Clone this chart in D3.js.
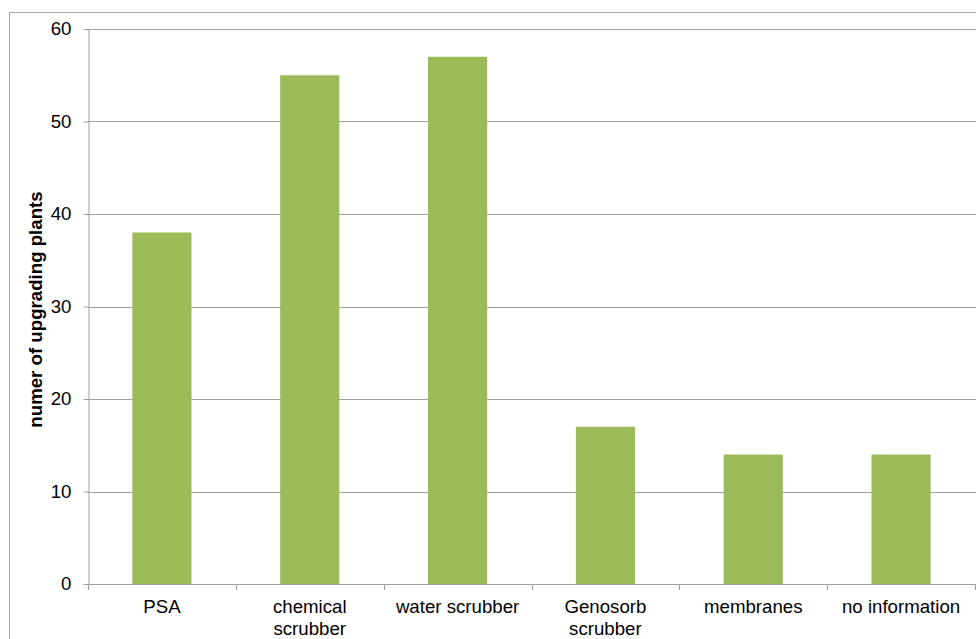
<!DOCTYPE html>
<html>
<head>
<meta charset="utf-8">
<script src="https://cdn.jsdelivr.net/npm/d3@7"></script>
<style>
  html, body { margin: 0; padding: 0; background: #fff; }
  svg { display: block; font-family: "Liberation Sans", Arial, sans-serif; }
</style>
</head>
<body>
<svg id="chart" width="976" height="639"></svg>
<script>
// Upgrading technologies and the number of plants using each
const categories = [["PSA"], ["chemical", "scrubber"], ["water scrubber"], ["Genosorb", "scrubber"], ["membranes"], ["no information"]];
const plantCounts = [38, 55, 57, 17, 14, 14];
const yTicks = [0, 10, 20, 30, 40, 50, 60];
const yTitle = "numer of upgrading plants";

const svg = d3.select("#chart");
const margin = { left: 88, top: 29, right: 1, bottom: 55 };
const W = 976, H = 639;
const FONT = 18.67; // 14pt

// outer chart frame
svg.append("rect")
  .attr("x", 9.5).attr("y", 12.5)
  .attr("width", W + 20).attr("height", H + 20)
  .attr("fill", "none").attr("stroke", "#a6a6a6").attr("stroke-width", 1);

const x = d3.scaleBand()
  .domain(d3.range(categories.length))
  .range([margin.left, W - margin.right])
  .paddingInner(0.6).paddingOuter(0.3);

const xEdges = d3.scaleLinear()
  .domain([0, categories.length])
  .range([margin.left, W - margin.right]);

const y = d3.scaleLinear().domain([0, 60]).range([H - margin.bottom, margin.top]);

// horizontal gridlines
svg.append("g").selectAll("line")
  .data(yTicks.filter(d => d > 0))
  .join("line")
  .attr("x1", margin.left).attr("x2", W)
  .attr("y1", d => Math.round(y(d)) + 0.5).attr("y2", d => Math.round(y(d)) + 0.5)
  .attr("stroke", "#a0a0a0").attr("stroke-width", 1);

// bars
svg.append("g").selectAll("rect")
  .data(plantCounts)
  .join("rect")
  .attr("x", (d, i) => x(i))
  .attr("width", x.bandwidth())
  .attr("y", d => y(d))
  .attr("height", d => y(0) - y(d))
  .attr("fill", "#9bbb59");

// y axis
const yAxis = svg.append("g")
  .attr("transform", `translate(${margin.left + 0.5},0)`)
  .call(d3.axisLeft(y).tickValues(yTicks).tickSize(5).tickPadding(12).tickSizeOuter(0));
yAxis.select(".domain").attr("stroke", "#a0a0a0");
yAxis.selectAll(".tick line").attr("stroke", "#a0a0a0");
yAxis.selectAll(".tick text")
  .attr("font-size", FONT).attr("fill", "#000")
  .attr("font-family", "Liberation Sans, Arial, sans-serif");

// x axis baseline with category boundary ticks
const xg = svg.append("g");
xg.append("line")
  .attr("x1", margin.left).attr("x2", W)
  .attr("y1", Math.round(y(0)) + 0.5).attr("y2", Math.round(y(0)) + 0.5)
  .attr("stroke", "#a0a0a0");
xg.selectAll("line.edge")
  .data(d3.range(categories.length + 1))
  .join("line")
  .attr("class", "edge")
  .attr("x1", d => Math.round(xEdges(d)) + 0.5).attr("x2", d => Math.round(xEdges(d)) + 0.5)
  .attr("y1", y(0)).attr("y2", y(0) + 6)
  .attr("stroke", "#a0a0a0");

// category labels
const labels = xg.selectAll("text.cat")
  .data(categories)
  .join("text")
  .attr("class", "cat")
  .attr("text-anchor", "middle")
  .attr("font-size", FONT)
  .attr("fill", "#000")
  .attr("transform", (d, i) => `translate(${x(i) + x.bandwidth() / 2},${y(0) + 29})`);
labels.selectAll("tspan")
  .data(d => d)
  .join("tspan")
  .attr("x", 0)
  .attr("dy", (d, i) => i === 0 ? 0 : 21.5)
  .text(d => d);

// y axis title
svg.append("text")
  .attr("transform", `translate(42,${(y(0) + y(60)) / 2 + 3}) rotate(-90)`)
  .attr("text-anchor", "middle")
  .attr("font-size", FONT)
  .attr("font-weight", "bold")
  .attr("fill", "#000")
  .text(yTitle);
</script>
</body>
</html>
